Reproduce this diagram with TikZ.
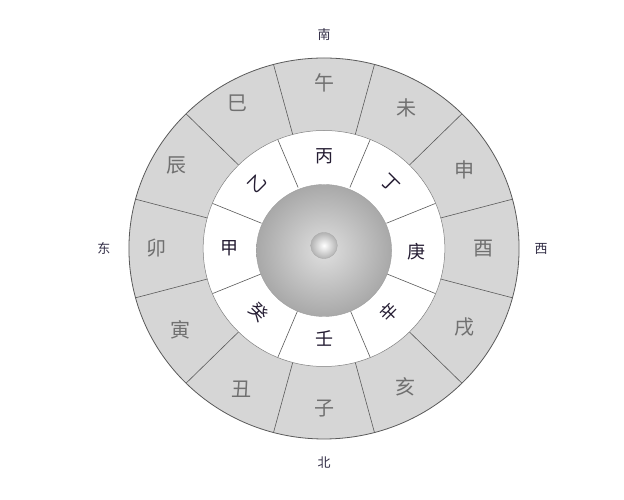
\documentclass[tikz,border=0pt]{standalone}
\usepackage{fontspec}
\setmainfont{Noto Sans CJK SC}
\definecolor{ringgray}{RGB}{214,214,214}
\definecolor{linegray}{RGB}{90,90,90}
\definecolor{branchtext}{RGB}{112,112,112}
\definecolor{stemtext}{RGB}{36,28,50}
\definecolor{dirtext}{RGB}{50,45,70}

\tikzset{
  branch/.style={text=branchtext,font=\fontsize{20}{20}\selectfont,inner sep=0pt},
  stem/.style={text=stemtext,font=\fontsize{18}{18}\selectfont,inner sep=0pt},
  compass/.style={text=dirtext,font=\fontsize{13}{13}\selectfont,inner sep=0pt},
  divider/.style={draw=linegray,line width=0.6pt}
}

\begin{document}
\begin{tikzpicture}[x=1pt,y=1pt]
\useasboundingbox (0,0) rectangle (624,500);
\fill[white] (0,0) rectangle (624,500);
\begin{scope}[shift={(324,251.5)},xscale=1.024]
% rings
\fill[ringgray] (0,0) circle (190.5);
\fill[white] (0,0) circle (118);
\foreach \a in {15,45,...,345} \draw[divider] (\a:118) -- (\a:190.5);
\foreach \a in {22.5,67.5,...,337.5} \draw[divider] (\a:66) -- (\a:118);
\draw[linegray,line width=0.8pt] (0,0) circle (190.5);
\draw[gray,line width=0.5pt] (0,0) circle (118);
% centre ball
\shade[inner color=gray!25,outer color=gray!68] (0,-2) circle (66);
\draw[gray!75,line width=0.4pt] (0,-2) circle (66);
\shade[inner color=white,outer color=gray!60] (0,3) circle (13);
\draw[gray!65,line width=0.4pt] (0,3) circle (13);
% branches
\node[branch] (wu) at (90:166) {午};
\node[branch] (wei) at (60:162) {未};
\node[branch] (shen) at (30:158) {申};
\node[branch] (you) at (0:156) {酉};
\node[branch] (xu) at (-30:158) {戌};
\node[branch] (hai) at (-60:160) {亥};
\node[branch] (zi) at (-90:160) {子};
\node[branch] (chou) at (-120:162) {丑};
\node[branch] (yin) at (-150:162) {寅};
\node[branch] (mao) at (180:164) {卯};
\node[branch] (chen) at (150:166) {辰};
\node[branch] (si) at (120:168) {巳};
% stems
\node[stem] (bing) at (90:92) {丙};
\node[stem,rotate=-45] (ding) at (45:92) {丁};
\node[stem] (geng) at (-2:90) {庚};
\node[stem,rotate=45] (xin) at (-45:90) {辛};
\node[stem] (ren) at (-90:90) {壬};
\node[stem,rotate=-45] (gui) at (-135:90) {癸};
\node[stem] (jia) at (180:92) {甲};
\node[stem,rotate=45] (yi) at (135:92) {乙};
% directions
\node[compass] (nan) at (90:214) {南};
\node[compass] (bei) at (-90:214) {北};
\node[compass] (dong) at (180:215) {东};
\node[compass] (xi) at (0:212) {西};
\end{scope}
\end{tikzpicture}
\end{document}
